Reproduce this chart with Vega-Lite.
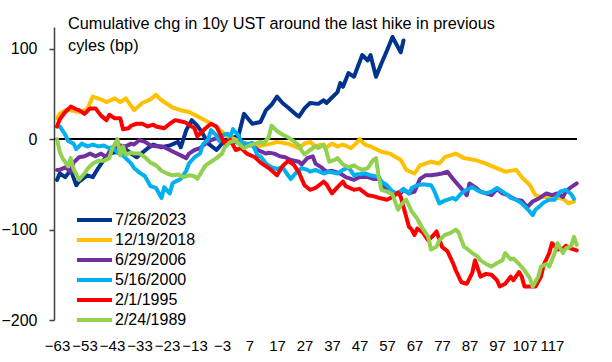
{
"$schema": "https://vega.github.io/schema/vega-lite/v6.json",
"width": 523, "height": 293,
"autosize": {"type": "none"},
"padding": {"left": 54, "top": 27, "right": 35, "bottom": 42},
"background": "white",
"config": {"view": {"stroke": null}, "font": "Liberation Sans"},
"title": {"text": ["Cumulative chg in 10y UST around the last hike in previous", "cyles (bp)"], "anchor": "start", "frame": "group", "orient": "top", "baseline": "top", "offset": -27, "dx": 14, "fontSize": 16.3, "fontWeight": "normal", "font": "Liberation Sans", "color": "black", "lineHeight": 22},
"data": {"values": [
{"d":"7/26/2023","x":-63,"y":-45},{"d":"7/26/2023","x":-62,"y":-38},{"d":"7/26/2023","x":-60,"y":-42},{"d":"7/26/2023","x":-58,"y":-34},{"d":"7/26/2023","x":-56,"y":-51},{"d":"7/26/2023","x":-55,"y":-47},{"d":"7/26/2023","x":-52,"y":-40},{"d":"7/26/2023","x":-50,"y":-42},{"d":"7/26/2023","x":-48,"y":-32},{"d":"7/26/2023","x":-46,"y":-23},{"d":"7/26/2023","x":-44,"y":-16},{"d":"7/26/2023","x":-41,"y":-14},{"d":"7/26/2023","x":-39,"y":-9},{"d":"7/26/2023","x":-36,"y":-16},{"d":"7/26/2023","x":-34,"y":-20},{"d":"7/26/2023","x":-30,"y":-10},{"d":"7/26/2023","x":-28,"y":-6},{"d":"7/26/2023","x":-25,"y":-9},{"d":"7/26/2023","x":-22,"y":-7},{"d":"7/26/2023","x":-19,"y":-3},{"d":"7/26/2023","x":-18,"y":-9},{"d":"7/26/2023","x":-16,"y":10},{"d":"7/26/2023","x":-14,"y":21},{"d":"7/26/2023","x":-12,"y":15},{"d":"7/26/2023","x":-10,"y":6},{"d":"7/26/2023","x":-8,"y":-5},{"d":"7/26/2023","x":-5,"y":-12},{"d":"7/26/2023","x":-3,"y":-5},{"d":"7/26/2023","x":-1,"y":-1},{"d":"7/26/2023","x":3,"y":4},{"d":"7/26/2023","x":5,"y":28},{"d":"7/26/2023","x":8,"y":17},{"d":"7/26/2023","x":11,"y":19},{"d":"7/26/2023","x":13,"y":32},{"d":"7/26/2023","x":15,"y":38},{"d":"7/26/2023","x":17,"y":47},{"d":"7/26/2023","x":19,"y":40},{"d":"7/26/2023","x":21,"y":35},{"d":"7/26/2023","x":24,"y":27},{"d":"7/26/2023","x":25,"y":25},{"d":"7/26/2023","x":27,"y":34},{"d":"7/26/2023","x":29,"y":40},{"d":"7/26/2023","x":32,"y":39},{"d":"7/26/2023","x":34,"y":43},{"d":"7/26/2023","x":35,"y":40},{"d":"7/26/2023","x":37,"y":46},{"d":"7/26/2023","x":39,"y":52},{"d":"7/26/2023","x":40,"y":62},{"d":"7/26/2023","x":41,"y":58},{"d":"7/26/2023","x":43,"y":73},{"d":"7/26/2023","x":45,"y":69},{"d":"7/26/2023","x":48,"y":93},{"d":"7/26/2023","x":50,"y":87},{"d":"7/26/2023","x":51,"y":93},{"d":"7/26/2023","x":53,"y":69},{"d":"7/26/2023","x":55,"y":84},{"d":"7/26/2023","x":57,"y":98},{"d":"7/26/2023","x":59,"y":113},{"d":"7/26/2023","x":62,"y":96},{"d":"7/26/2023","x":63,"y":109},
{"d":"12/19/2018","x":-63,"y":23},{"d":"12/19/2018","x":-62,"y":28},{"d":"12/19/2018","x":-60,"y":32},{"d":"12/19/2018","x":-58,"y":32},{"d":"12/19/2018","x":-55,"y":30},{"d":"12/19/2018","x":-52,"y":33},{"d":"12/19/2018","x":-50,"y":47},{"d":"12/19/2018","x":-49,"y":46},{"d":"12/19/2018","x":-47,"y":44},{"d":"12/19/2018","x":-45,"y":41},{"d":"12/19/2018","x":-42,"y":45},{"d":"12/19/2018","x":-40,"y":41},{"d":"12/19/2018","x":-38,"y":45},{"d":"12/19/2018","x":-35,"y":32},{"d":"12/19/2018","x":-32,"y":40},{"d":"12/19/2018","x":-29,"y":44},{"d":"12/19/2018","x":-27,"y":49},{"d":"12/19/2018","x":-25,"y":43},{"d":"12/19/2018","x":-21,"y":35},{"d":"12/19/2018","x":-18,"y":32},{"d":"12/19/2018","x":-15,"y":30},{"d":"12/19/2018","x":-13,"y":27},{"d":"12/19/2018","x":-8,"y":19},{"d":"12/19/2018","x":-5,"y":13},{"d":"12/19/2018","x":-3,"y":8},{"d":"12/19/2018","x":-1,"y":3},{"d":"12/19/2018","x":4,"y":-3},{"d":"12/19/2018","x":10,"y":-8},{"d":"12/19/2018","x":15,"y":-5},{"d":"12/19/2018","x":17,"y":-3},{"d":"12/19/2018","x":21,"y":-5},{"d":"12/19/2018","x":25,"y":-10},{"d":"12/19/2018","x":27,"y":-5},{"d":"12/19/2018","x":29,"y":-3},{"d":"12/19/2018","x":31,"y":-8},{"d":"12/19/2018","x":33,"y":-6},{"d":"12/19/2018","x":35,"y":-9},{"d":"12/19/2018","x":37,"y":-5},{"d":"12/19/2018","x":39,"y":-8},{"d":"12/19/2018","x":41,"y":-6},{"d":"12/19/2018","x":44,"y":-10},{"d":"12/19/2018","x":46,"y":-4},{"d":"12/19/2018","x":47,"y":0},{"d":"12/19/2018","x":49,"y":-6},{"d":"12/19/2018","x":51,"y":-8},{"d":"12/19/2018","x":55,"y":-14},{"d":"12/19/2018","x":58,"y":-16},{"d":"12/19/2018","x":62,"y":-23},{"d":"12/19/2018","x":64,"y":-34},{"d":"12/19/2018","x":67,"y":-38},{"d":"12/19/2018","x":69,"y":-29},{"d":"12/19/2018","x":73,"y":-25},{"d":"12/19/2018","x":76,"y":-27},{"d":"12/19/2018","x":78,"y":-20},{"d":"12/19/2018","x":82,"y":-16},{"d":"12/19/2018","x":85,"y":-21},{"d":"12/19/2018","x":89,"y":-23},{"d":"12/19/2018","x":93,"y":-27},{"d":"12/19/2018","x":96,"y":-31},{"d":"12/19/2018","x":100,"y":-36},{"d":"12/19/2018","x":104,"y":-34},{"d":"12/19/2018","x":106,"y":-42},{"d":"12/19/2018","x":109,"y":-51},{"d":"12/19/2018","x":111,"y":-62},{"d":"12/19/2018","x":113,"y":-64},{"d":"12/19/2018","x":117,"y":-64},{"d":"12/19/2018","x":121,"y":-66},{"d":"12/19/2018","x":123,"y":-71},{"d":"12/19/2018","x":125,"y":-69},
{"d":"6/29/2006","x":-63,"y":-34},{"d":"6/29/2006","x":-62,"y":-34},{"d":"6/29/2006","x":-60,"y":-31},{"d":"6/29/2006","x":-58,"y":-36},{"d":"6/29/2006","x":-57,"y":-26},{"d":"6/29/2006","x":-55,"y":-20},{"d":"6/29/2006","x":-53,"y":-19},{"d":"6/29/2006","x":-51,"y":-16},{"d":"6/29/2006","x":-49,"y":-19},{"d":"6/29/2006","x":-47,"y":-16},{"d":"6/29/2006","x":-45,"y":-20},{"d":"6/29/2006","x":-44,"y":-14},{"d":"6/29/2006","x":-42,"y":-11},{"d":"6/29/2006","x":-40,"y":-7},{"d":"6/29/2006","x":-38,"y":-8},{"d":"6/29/2006","x":-36,"y":-5},{"d":"6/29/2006","x":-35,"y":-6},{"d":"6/29/2006","x":-33,"y":-1},{"d":"6/29/2006","x":-31,"y":-3},{"d":"6/29/2006","x":-29,"y":-7},{"d":"6/29/2006","x":-27,"y":-8},{"d":"6/29/2006","x":-25,"y":-8},{"d":"6/29/2006","x":-24,"y":-9},{"d":"6/29/2006","x":-22,"y":-12},{"d":"6/29/2006","x":-20,"y":-15},{"d":"6/29/2006","x":-18,"y":-18},{"d":"6/29/2006","x":-16,"y":-21},{"d":"6/29/2006","x":-15,"y":-16},{"d":"6/29/2006","x":-13,"y":-12},{"d":"6/29/2006","x":-11,"y":-10},{"d":"6/29/2006","x":-9,"y":-5},{"d":"6/29/2006","x":-7,"y":-1},{"d":"6/29/2006","x":-5,"y":1},{"d":"6/29/2006","x":-3,"y":-2},{"d":"6/29/2006","x":0,"y":-4},{"d":"6/29/2006","x":2,"y":-3},{"d":"6/29/2006","x":5,"y":-6},{"d":"6/29/2006","x":8,"y":-7},{"d":"6/29/2006","x":10,"y":-12},{"d":"6/29/2006","x":13,"y":-16},{"d":"6/29/2006","x":14,"y":-15},{"d":"6/29/2006","x":16,"y":-16},{"d":"6/29/2006","x":18,"y":-19},{"d":"6/29/2006","x":20,"y":-20},{"d":"6/29/2006","x":22,"y":-23},{"d":"6/29/2006","x":25,"y":-25},{"d":"6/29/2006","x":26,"y":-28},{"d":"6/29/2006","x":28,"y":-21},{"d":"6/29/2006","x":30,"y":-19},{"d":"6/29/2006","x":31,"y":-27},{"d":"6/29/2006","x":33,"y":-31},{"d":"6/29/2006","x":35,"y":-36},{"d":"6/29/2006","x":37,"y":-35},{"d":"6/29/2006","x":40,"y":-38},{"d":"6/29/2006","x":42,"y":-42},{"d":"6/29/2006","x":45,"y":-45},{"d":"6/29/2006","x":47,"y":-42},{"d":"6/29/2006","x":50,"y":-42},{"d":"6/29/2006","x":52,"y":-44},{"d":"6/29/2006","x":54,"y":-44},{"d":"6/29/2006","x":56,"y":-53},{"d":"6/29/2006","x":58,"y":-56},{"d":"6/29/2006","x":60,"y":-60},{"d":"6/29/2006","x":62,"y":-60},{"d":"6/29/2006","x":63,"y":-56},{"d":"6/29/2006","x":65,"y":-60},{"d":"6/29/2006","x":67,"y":-58},{"d":"6/29/2006","x":69,"y":-44},{"d":"6/29/2006","x":71,"y":-40},{"d":"6/29/2006","x":73,"y":-40},{"d":"6/29/2006","x":75,"y":-39},{"d":"6/29/2006","x":77,"y":-38},{"d":"6/29/2006","x":79,"y":-36},{"d":"6/29/2006","x":81,"y":-44},{"d":"6/29/2006","x":83,"y":-51},{"d":"6/29/2006","x":85,"y":-58},{"d":"6/29/2006","x":86,"y":-62},{"d":"6/29/2006","x":87,"y":-49},{"d":"6/29/2006","x":89,"y":-53},{"d":"6/29/2006","x":91,"y":-58},{"d":"6/29/2006","x":93,"y":-60},{"d":"6/29/2006","x":95,"y":-62},{"d":"6/29/2006","x":97,"y":-55},{"d":"6/29/2006","x":99,"y":-60},{"d":"6/29/2006","x":101,"y":-62},{"d":"6/29/2006","x":102,"y":-64},{"d":"6/29/2006","x":104,"y":-67},{"d":"6/29/2006","x":106,"y":-68},{"d":"6/29/2006","x":108,"y":-75},{"d":"6/29/2006","x":110,"y":-69},{"d":"6/29/2006","x":112,"y":-66},{"d":"6/29/2006","x":114,"y":-62},{"d":"6/29/2006","x":115,"y":-60},{"d":"6/29/2006","x":117,"y":-62},{"d":"6/29/2006","x":119,"y":-60},{"d":"6/29/2006","x":121,"y":-64},{"d":"6/29/2006","x":122,"y":-58},{"d":"6/29/2006","x":124,"y":-53},{"d":"6/29/2006","x":126,"y":-49},
{"d":"5/16/2000","x":-63,"y":14},{"d":"5/16/2000","x":-62,"y":14},{"d":"5/16/2000","x":-60,"y":5},{"d":"5/16/2000","x":-59,"y":-2},{"d":"5/16/2000","x":-57,"y":-5},{"d":"5/16/2000","x":-56,"y":-11},{"d":"5/16/2000","x":-54,"y":-5},{"d":"5/16/2000","x":-52,"y":-8},{"d":"5/16/2000","x":-50,"y":-6},{"d":"5/16/2000","x":-48,"y":-8},{"d":"5/16/2000","x":-46,"y":-7},{"d":"5/16/2000","x":-44,"y":-10},{"d":"5/16/2000","x":-43,"y":-9},{"d":"5/16/2000","x":-41,"y":-15},{"d":"5/16/2000","x":-39,"y":-18},{"d":"5/16/2000","x":-36,"y":-27},{"d":"5/16/2000","x":-35,"y":-32},{"d":"5/16/2000","x":-33,"y":-37},{"d":"5/16/2000","x":-31,"y":-41},{"d":"5/16/2000","x":-29,"y":-52},{"d":"5/16/2000","x":-27,"y":-54},{"d":"5/16/2000","x":-25,"y":-65},{"d":"5/16/2000","x":-24,"y":-53},{"d":"5/16/2000","x":-22,"y":-60},{"d":"5/16/2000","x":-21,"y":-49},{"d":"5/16/2000","x":-20,"y":-47},{"d":"5/16/2000","x":-18,"y":-44},{"d":"5/16/2000","x":-16,"y":-35},{"d":"5/16/2000","x":-15,"y":-27},{"d":"5/16/2000","x":-13,"y":-20},{"d":"5/16/2000","x":-11,"y":-16},{"d":"5/16/2000","x":-10,"y":-6},{"d":"5/16/2000","x":-8,"y":0},{"d":"5/16/2000","x":-7,"y":10},{"d":"5/16/2000","x":-5,"y":4},{"d":"5/16/2000","x":-4,"y":-2},{"d":"5/16/2000","x":-3,"y":4},{"d":"5/16/2000","x":-1,"y":6},{"d":"5/16/2000","x":0,"y":3},{"d":"5/16/2000","x":1,"y":11},{"d":"5/16/2000","x":3,"y":4},{"d":"5/16/2000","x":4,"y":-3},{"d":"5/16/2000","x":6,"y":-6},{"d":"5/16/2000","x":8,"y":-4},{"d":"5/16/2000","x":10,"y":-19},{"d":"5/16/2000","x":11,"y":-19},{"d":"5/16/2000","x":13,"y":-27},{"d":"5/16/2000","x":15,"y":-31},{"d":"5/16/2000","x":17,"y":-33},{"d":"5/16/2000","x":19,"y":-31},{"d":"5/16/2000","x":21,"y":-40},{"d":"5/16/2000","x":22,"y":-44},{"d":"5/16/2000","x":24,"y":-37},{"d":"5/16/2000","x":26,"y":-32},{"d":"5/16/2000","x":28,"y":-34},{"d":"5/16/2000","x":29,"y":-36},{"d":"5/16/2000","x":31,"y":-34},{"d":"5/16/2000","x":34,"y":-38},{"d":"5/16/2000","x":36,"y":-36},{"d":"5/16/2000","x":39,"y":-38},{"d":"5/16/2000","x":41,"y":-34},{"d":"5/16/2000","x":43,"y":-31},{"d":"5/16/2000","x":45,"y":-40},{"d":"5/16/2000","x":46,"y":-39},{"d":"5/16/2000","x":49,"y":-38},{"d":"5/16/2000","x":51,"y":-40},{"d":"5/16/2000","x":54,"y":-42},{"d":"5/16/2000","x":55,"y":-47},{"d":"5/16/2000","x":57,"y":-51},{"d":"5/16/2000","x":59,"y":-58},{"d":"5/16/2000","x":61,"y":-60},{"d":"5/16/2000","x":63,"y":-55},{"d":"5/16/2000","x":65,"y":-60},{"d":"5/16/2000","x":66,"y":-54},{"d":"5/16/2000","x":68,"y":-51},{"d":"5/16/2000","x":70,"y":-50},{"d":"5/16/2000","x":73,"y":-51},{"d":"5/16/2000","x":74,"y":-56},{"d":"5/16/2000","x":76,"y":-71},{"d":"5/16/2000","x":78,"y":-68},{"d":"5/16/2000","x":81,"y":-65},{"d":"5/16/2000","x":82,"y":-67},{"d":"5/16/2000","x":84,"y":-60},{"d":"5/16/2000","x":86,"y":-56},{"d":"5/16/2000","x":88,"y":-53},{"d":"5/16/2000","x":90,"y":-57},{"d":"5/16/2000","x":91,"y":-58},{"d":"5/16/2000","x":93,"y":-60},{"d":"5/16/2000","x":95,"y":-58},{"d":"5/16/2000","x":97,"y":-54},{"d":"5/16/2000","x":99,"y":-58},{"d":"5/16/2000","x":101,"y":-62},{"d":"5/16/2000","x":102,"y":-65},{"d":"5/16/2000","x":104,"y":-67},{"d":"5/16/2000","x":106,"y":-71},{"d":"5/16/2000","x":108,"y":-77},{"d":"5/16/2000","x":110,"y":-84},{"d":"5/16/2000","x":111,"y":-78},{"d":"5/16/2000","x":113,"y":-73},{"d":"5/16/2000","x":114,"y":-70},{"d":"5/16/2000","x":116,"y":-67},{"d":"5/16/2000","x":118,"y":-67},{"d":"5/16/2000","x":120,"y":-58},{"d":"5/16/2000","x":122,"y":-56},{"d":"5/16/2000","x":124,"y":-61},{"d":"5/16/2000","x":125,"y":-66},
{"d":"2/1/1995","x":-63,"y":14},{"d":"2/1/1995","x":-62,"y":22},{"d":"2/1/1995","x":-60,"y":30},{"d":"2/1/1995","x":-58,"y":36},{"d":"2/1/1995","x":-56,"y":33},{"d":"2/1/1995","x":-55,"y":32},{"d":"2/1/1995","x":-53,"y":28},{"d":"2/1/1995","x":-51,"y":34},{"d":"2/1/1995","x":-49,"y":34},{"d":"2/1/1995","x":-47,"y":26},{"d":"2/1/1995","x":-45,"y":21},{"d":"2/1/1995","x":-44,"y":27},{"d":"2/1/1995","x":-42,"y":23},{"d":"2/1/1995","x":-40,"y":23},{"d":"2/1/1995","x":-39,"y":11},{"d":"2/1/1995","x":-37,"y":12},{"d":"2/1/1995","x":-36,"y":15},{"d":"2/1/1995","x":-34,"y":17},{"d":"2/1/1995","x":-32,"y":17},{"d":"2/1/1995","x":-30,"y":14},{"d":"2/1/1995","x":-28,"y":16},{"d":"2/1/1995","x":-27,"y":14},{"d":"2/1/1995","x":-24,"y":12},{"d":"2/1/1995","x":-22,"y":17},{"d":"2/1/1995","x":-20,"y":21},{"d":"2/1/1995","x":-17,"y":19},{"d":"2/1/1995","x":-16,"y":18},{"d":"2/1/1995","x":-13,"y":12},{"d":"2/1/1995","x":-12,"y":3},{"d":"2/1/1995","x":-9,"y":12},{"d":"2/1/1995","x":-7,"y":17},{"d":"2/1/1995","x":-5,"y":14},{"d":"2/1/1995","x":-3,"y":1},{"d":"2/1/1995","x":-2,"y":-5},{"d":"2/1/1995","x":0,"y":-1},{"d":"2/1/1995","x":2,"y":-12},{"d":"2/1/1995","x":4,"y":-10},{"d":"2/1/1995","x":6,"y":-16},{"d":"2/1/1995","x":9,"y":-20},{"d":"2/1/1995","x":11,"y":-26},{"d":"2/1/1995","x":14,"y":-32},{"d":"2/1/1995","x":17,"y":-40},{"d":"2/1/1995","x":19,"y":-30},{"d":"2/1/1995","x":21,"y":-24},{"d":"2/1/1995","x":23,"y":-28},{"d":"2/1/1995","x":25,"y":-37},{"d":"2/1/1995","x":27,"y":-51},{"d":"2/1/1995","x":29,"y":-56},{"d":"2/1/1995","x":31,"y":-54},{"d":"2/1/1995","x":34,"y":-47},{"d":"2/1/1995","x":35,"y":-50},{"d":"2/1/1995","x":37,"y":-60},{"d":"2/1/1995","x":39,"y":-53},{"d":"2/1/1995","x":41,"y":-47},{"d":"2/1/1995","x":42,"y":-52},{"d":"2/1/1995","x":45,"y":-56},{"d":"2/1/1995","x":47,"y":-55},{"d":"2/1/1995","x":50,"y":-62},{"d":"2/1/1995","x":52,"y":-63},{"d":"2/1/1995","x":54,"y":-65},{"d":"2/1/1995","x":57,"y":-67},{"d":"2/1/1995","x":59,"y":-64},{"d":"2/1/1995","x":61,"y":-59},{"d":"2/1/1995","x":62,"y":-64},{"d":"2/1/1995","x":63,"y":-75},{"d":"2/1/1995","x":65,"y":-97},{"d":"2/1/1995","x":66,"y":-100},{"d":"2/1/1995","x":67,"y":-106},{"d":"2/1/1995","x":68,"y":-99},{"d":"2/1/1995","x":70,"y":-103},{"d":"2/1/1995","x":72,"y":-112},{"d":"2/1/1995","x":74,"y":-106},{"d":"2/1/1995","x":75,"y":-102},{"d":"2/1/1995","x":77,"y":-119},{"d":"2/1/1995","x":79,"y":-124},{"d":"2/1/1995","x":81,"y":-137},{"d":"2/1/1995","x":82,"y":-145},{"d":"2/1/1995","x":84,"y":-158},{"d":"2/1/1995","x":86,"y":-160},{"d":"2/1/1995","x":88,"y":-148},{"d":"2/1/1995","x":89,"y":-134},{"d":"2/1/1995","x":90,"y":-143},{"d":"2/1/1995","x":91,"y":-152},{"d":"2/1/1995","x":93,"y":-149},{"d":"2/1/1995","x":95,"y":-150},{"d":"2/1/1995","x":97,"y":-156},{"d":"2/1/1995","x":98,"y":-163},{"d":"2/1/1995","x":100,"y":-160},{"d":"2/1/1995","x":102,"y":-152},{"d":"2/1/1995","x":103,"y":-156},{"d":"2/1/1995","x":105,"y":-147},{"d":"2/1/1995","x":106,"y":-152},{"d":"2/1/1995","x":107,"y":-163},{"d":"2/1/1995","x":109,"y":-163},{"d":"2/1/1995","x":111,"y":-163},{"d":"2/1/1995","x":113,"y":-152},{"d":"2/1/1995","x":114,"y":-139},{"d":"2/1/1995","x":116,"y":-126},{"d":"2/1/1995","x":117,"y":-115},{"d":"2/1/1995","x":119,"y":-122},{"d":"2/1/1995","x":121,"y":-121},{"d":"2/1/1995","x":122,"y":-118},{"d":"2/1/1995","x":124,"y":-121},{"d":"2/1/1995","x":126,"y":-123},
{"d":"2/24/1989","x":-63,"y":0},{"d":"2/24/1989","x":-62,"y":-14},{"d":"2/24/1989","x":-61,"y":-21},{"d":"2/24/1989","x":-59,"y":-30},{"d":"2/24/1989","x":-58,"y":-21},{"d":"2/24/1989","x":-57,"y":-33},{"d":"2/24/1989","x":-55,"y":-45},{"d":"2/24/1989","x":-53,"y":-38},{"d":"2/24/1989","x":-52,"y":-33},{"d":"2/24/1989","x":-50,"y":-27},{"d":"2/24/1989","x":-48,"y":-24},{"d":"2/24/1989","x":-46,"y":-24},{"d":"2/24/1989","x":-44,"y":-21},{"d":"2/24/1989","x":-43,"y":-11},{"d":"2/24/1989","x":-41,"y":0},{"d":"2/24/1989","x":-40,"y":-18},{"d":"2/24/1989","x":-39,"y":-8},{"d":"2/24/1989","x":-38,"y":-17},{"d":"2/24/1989","x":-36,"y":-15},{"d":"2/24/1989","x":-35,"y":-16},{"d":"2/24/1989","x":-33,"y":-16},{"d":"2/24/1989","x":-31,"y":-20},{"d":"2/24/1989","x":-29,"y":-26},{"d":"2/24/1989","x":-27,"y":-29},{"d":"2/24/1989","x":-25,"y":-35},{"d":"2/24/1989","x":-23,"y":-38},{"d":"2/24/1989","x":-21,"y":-40},{"d":"2/24/1989","x":-19,"y":-39},{"d":"2/24/1989","x":-17,"y":-42},{"d":"2/24/1989","x":-15,"y":-40},{"d":"2/24/1989","x":-13,"y":-41},{"d":"2/24/1989","x":-12,"y":-44},{"d":"2/24/1989","x":-10,"y":-34},{"d":"2/24/1989","x":-9,"y":-29},{"d":"2/24/1989","x":-7,"y":-25},{"d":"2/24/1989","x":-5,"y":-21},{"d":"2/24/1989","x":-3,"y":-16},{"d":"2/24/1989","x":-2,"y":-9},{"d":"2/24/1989","x":0,"y":-3},{"d":"2/24/1989","x":2,"y":-2},{"d":"2/24/1989","x":3,"y":-5},{"d":"2/24/1989","x":5,"y":-10},{"d":"2/24/1989","x":7,"y":-7},{"d":"2/24/1989","x":9,"y":-5},{"d":"2/24/1989","x":11,"y":-3},{"d":"2/24/1989","x":12,"y":-5},{"d":"2/24/1989","x":14,"y":2},{"d":"2/24/1989","x":15,"y":15},{"d":"2/24/1989","x":17,"y":9},{"d":"2/24/1989","x":19,"y":5},{"d":"2/24/1989","x":21,"y":2},{"d":"2/24/1989","x":23,"y":-2},{"d":"2/24/1989","x":25,"y":-7},{"d":"2/24/1989","x":26,"y":-13},{"d":"2/24/1989","x":27,"y":-17},{"d":"2/24/1989","x":29,"y":-12},{"d":"2/24/1989","x":31,"y":-8},{"d":"2/24/1989","x":32,"y":-10},{"d":"2/24/1989","x":34,"y":-6},{"d":"2/24/1989","x":35,"y":-14},{"d":"2/24/1989","x":36,"y":-25},{"d":"2/24/1989","x":38,"y":-23},{"d":"2/24/1989","x":39,"y":-21},{"d":"2/24/1989","x":41,"y":-28},{"d":"2/24/1989","x":43,"y":-31},{"d":"2/24/1989","x":45,"y":-29},{"d":"2/24/1989","x":46,"y":-31},{"d":"2/24/1989","x":48,"y":-34},{"d":"2/24/1989","x":50,"y":-32},{"d":"2/24/1989","x":52,"y":-23},{"d":"2/24/1989","x":53,"y":-21},{"d":"2/24/1989","x":54,"y":-42},{"d":"2/24/1989","x":55,"y":-56},{"d":"2/24/1989","x":57,"y":-58},{"d":"2/24/1989","x":59,"y":-61},{"d":"2/24/1989","x":61,"y":-78},{"d":"2/24/1989","x":62,"y":-73},{"d":"2/24/1989","x":64,"y":-67},{"d":"2/24/1989","x":66,"y":-80},{"d":"2/24/1989","x":68,"y":-88},{"d":"2/24/1989","x":70,"y":-99},{"d":"2/24/1989","x":72,"y":-108},{"d":"2/24/1989","x":73,"y":-122},{"d":"2/24/1989","x":75,"y":-119},{"d":"2/24/1989","x":76,"y":-112},{"d":"2/24/1989","x":78,"y":-106},{"d":"2/24/1989","x":80,"y":-104},{"d":"2/24/1989","x":82,"y":-100},{"d":"2/24/1989","x":83,"y":-103},{"d":"2/24/1989","x":85,"y":-119},{"d":"2/24/1989","x":86,"y":-121},{"d":"2/24/1989","x":88,"y":-126},{"d":"2/24/1989","x":90,"y":-130},{"d":"2/24/1989","x":91,"y":-134},{"d":"2/24/1989","x":93,"y":-138},{"d":"2/24/1989","x":95,"y":-141},{"d":"2/24/1989","x":97,"y":-137},{"d":"2/24/1989","x":99,"y":-134},{"d":"2/24/1989","x":100,"y":-126},{"d":"2/24/1989","x":102,"y":-133},{"d":"2/24/1989","x":103,"y":-132},{"d":"2/24/1989","x":105,"y":-138},{"d":"2/24/1989","x":107,"y":-145},{"d":"2/24/1989","x":109,"y":-154},{"d":"2/24/1989","x":110,"y":-163},{"d":"2/24/1989","x":112,"y":-152},{"d":"2/24/1989","x":113,"y":-141},{"d":"2/24/1989","x":115,"y":-138},{"d":"2/24/1989","x":116,"y":-141},{"d":"2/24/1989","x":118,"y":-126},{"d":"2/24/1989","x":119,"y":-115},{"d":"2/24/1989","x":121,"y":-126},{"d":"2/24/1989","x":122,"y":-121},{"d":"2/24/1989","x":124,"y":-118},{"d":"2/24/1989","x":125,"y":-108},{"d":"2/24/1989","x":126,"y":-117}
]},
"layer": [
{"mark": {"type": "rule", "color": "black", "strokeWidth": 1.5}, "encoding": {"y": {"datum": 0, "type": "quantitative", "scale": {"domain": [-200, 124]}}}},
{"mark": {"type": "line", "strokeWidth": 4, "strokeJoin": "round", "strokeCap": "round"},
 "encoding": {
  "x": {"field": "x", "type": "quantitative", "scale": {"domain": [-64.1, 126.1], "nice": false, "zero": false},
        "axis": {"title": null, "values": [-63,-53,-43,-33,-23,-13,-3,7,17,27,37,47,57,67,77,87,97,107,117], "domain": false, "ticks": false, "grid": false, "labelFontSize": 15, "labelFont": "Liberation Sans", "labelColor": "black", "labelPadding": 18, "format": "d", "labelOverlap": false, "labelFlush": false}},
  "y": {"field": "y", "type": "quantitative", "scale": {"domain": [-200, 124], "nice": false},
        "axis": {"title": null, "values": [-200, -100, 0, 100], "grid": false, "domainColor": "#404040", "domainWidth": 1.5, "tickColor": "#404040", "tickSize": 5, "tickWidth": 1.5, "labelFontSize": 16, "labelFont": "Liberation Sans", "labelColor": "black", "labelPadding": 12}},
  "color": {"field": "d", "type": "nominal", "sort": null,
        "scale": {"domain": ["7/26/2023","12/19/2018","6/29/2006","5/16/2000","2/1/1995","2/24/1989"], "range": ["#00338D","#FFC000","#7030A0","#00B0F0","#FF0000","#92D050"]},
        "legend": {"orient": "none", "legendX": 30.5, "legendY": 183, "title": null, "symbolType": "M-2.19,0H2.19", "symbolSize": 256, "symbolStrokeWidth": 4, "symbolFillColor": "transparent", "labelFontSize": 16, "labelFont": "Liberation Sans", "labelColor": "black", "rowPadding": 2, "labelOffset": 10.5, "padding": 0}}
 }}
]
}
